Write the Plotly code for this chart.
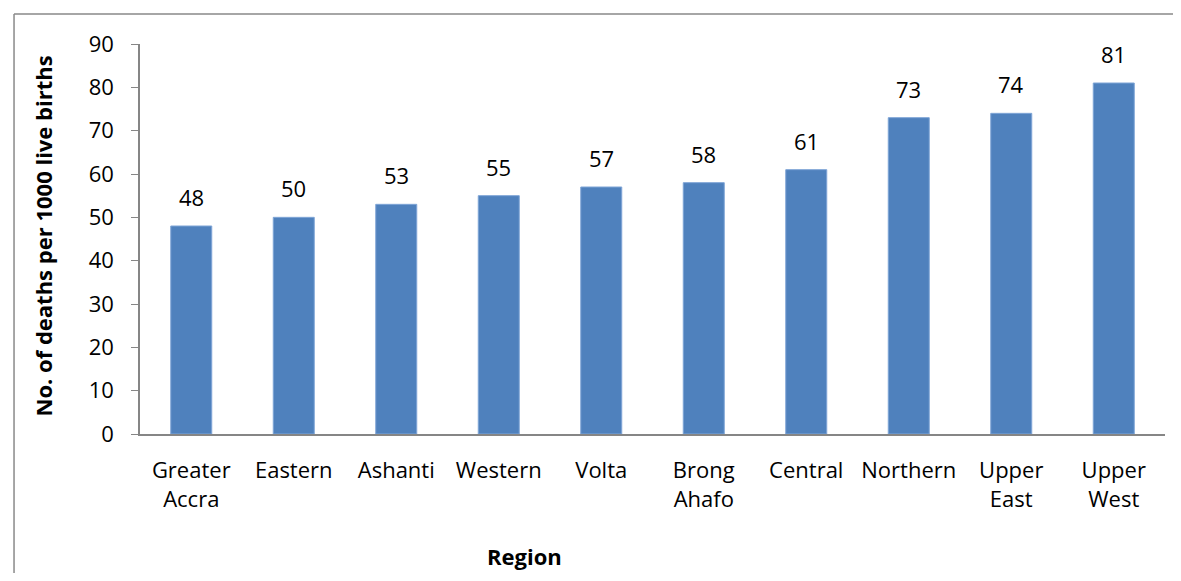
import plotly.graph_objects as go

regions = ["Greater<br>Accra", "Eastern", "Ashanti", "Western", "Volta",
           "Brong<br>Ahafo", "Central", "Northern", "Upper<br>East", "Upper<br>West"]
deaths = [48, 50, 53, 55, 57, 58, 61, 73, 74, 81]
y_ticks = [0, 10, 20, 30, 40, 50, 60, 70, 80, 90]

font_main = "'Open Sans', sans-serif"

trace = go.Bar(
    x=regions, y=deaths,
    marker=dict(color="#4F81BD", line=dict(color="#7FA5D6", width=1)),
    width=0.4,
)

# value labels above bars
labels = [dict(x=r, y=v, text=str(v), showarrow=False, yanchor="bottom", yshift=12,
               font=dict(size=22, color="#000000", family=font_main))
          for r, v in zip(regions, deaths)]

labels.append(dict(xref="paper", yref="paper", x=0.3756, y=-0.356, text="<b>Region</b>",
                   xanchor="center", showarrow=False, font=dict(size=22, family=font_main)))
labels.append(dict(xref="paper", yref="paper", x=-0.0937, y=0.509, textangle=-90,
                   xanchor="center", yanchor="middle",
                   text="<b>No. of deaths per 1000 live births</b>",
                   showarrow=False, font=dict(size=22, family=font_main)))

layout = go.Layout(
    width=1165, height=565,
    margin=dict(l=132, r=8, t=36, b=139),
    paper_bgcolor="white", plot_bgcolor="white",
    font=dict(family=font_main, size=22, color="#000000"),
    showlegend=False,
    xaxis=dict(
        showline=True, linecolor="#868686", linewidth=1.5,
        ticks="", showgrid=False, tickfont=dict(size=22), ticklabelstandoff=16,
    ),
    yaxis=dict(
        range=[0, 90], tickvals=y_ticks, showline=True, linecolor="#868686",
        linewidth=1.5, ticks="outside", ticklen=7, tickcolor="#868686",
        showgrid=False, zeroline=False, tickfont=dict(size=22), ticklabelstandoff=13,
    ),
    annotations=labels,
    shapes=[
        dict(type="line", xref="paper", yref="paper", x0=-0.1229, x1=1.01, y0=1.0769, y1=1.0769,
             line=dict(color="#898989", width=1.5)),
        dict(type="line", xref="paper", yref="paper", x0=-0.1229, x1=-0.1229, y0=1.0769, y1=-0.36,
             line=dict(color="#898989", width=1.5)),
    ],
)

fig = go.Figure(data=[trace], layout=layout)
fig.write_html("out.html")
